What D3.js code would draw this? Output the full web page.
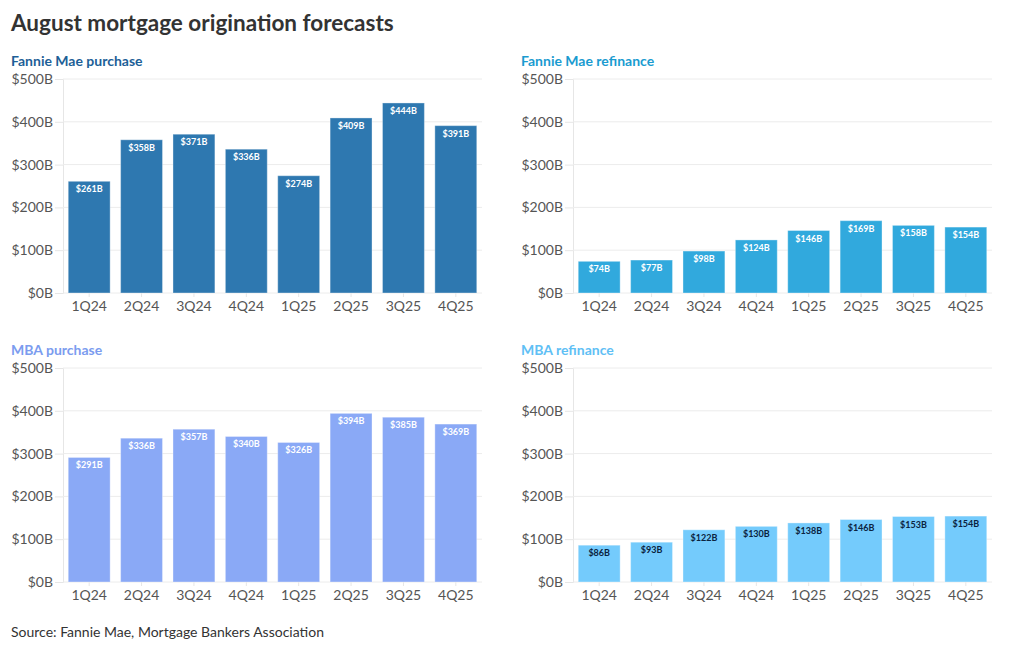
<!DOCTYPE html>
<html>
<head>
<meta charset="utf-8">
<script src="https://cdn.jsdelivr.net/npm/d3@7"></script>
<style>
  body { margin: 0; background: #fff; font-family: Lato, "Open Sans", sans-serif; }
  svg text { font-family: Lato, "Open Sans", sans-serif; }
</style>
</head>
<body>
<div id="chart"></div>
<script>
// Quarterly forecasts, billions of dollars
const quarters = ['1Q24', '2Q24', '3Q24', '4Q24', '1Q25', '2Q25', '3Q25', '4Q25'];
const fannieMaePurchase = [261, 358, 371, 336, 274, 409, 444, 391];
const fannieMaeRefinance = [74, 77, 98, 124, 146, 169, 158, 154];
const mbaPurchase = [291, 336, 357, 340, 326, 394, 385, 369];
const mbaRefinance = [86, 93, 122, 130, 138, 146, 153, 154];
const yTicks = [0, 100, 200, 300, 400, 500];

const panels = [
    { title: 'Fannie Mae purchase', values: fannieMaePurchase, x: 0, y: 0, bar: '#2e78b0', titleColor: '#1d5f97', label: '#ffffff' },
    { title: 'Fannie Mae refinance', values: fannieMaeRefinance, x: 510, y: 0, bar: '#31a9dd', titleColor: '#1a9bd0', label: '#ffffff' },
    { title: 'MBA purchase', values: mbaPurchase, x: 0, y: 289, bar: '#8aa9f6', titleColor: '#7b9cef', label: '#ffffff' },
    { title: 'MBA refinance', values: mbaRefinance, x: 510, y: 289, bar: '#74cbfc', titleColor: '#5fc0f5', label: '#0b2340' }
];

const width = 1020, height = 650;
const svg = d3.select('#chart').append('svg')
    .attr('width', width)
    .attr('height', height);

svg.append('text')
    .attr('x', 11).attr('y', 31)
    .attr('font-size', 22.5).attr('font-weight', 700)
    .attr('fill', '#333')
    .text('August mortgage origination forecasts');

function drawPanel(p) {
    const g = svg.append('g').attr('transform', `translate(${p.x},${p.y})`);
    const left = 63, right = 482, top = 79, bottom = 293;

    g.append('text')
        .attr('x', 11).attr('y', 66)
        .attr('font-size', 14).attr('font-weight', 700)
        .attr('fill', p.titleColor)
        .text(p.title);

    const x = d3.scaleBand()
        .domain(quarters)
        .range([left, right])
        .paddingInner(0.2)
        .paddingOuter(0.1);

    const y = d3.scaleLinear()
        .domain([0, 500])
        .range([bottom, top]);

    // grid + y axis
    const yAxis = g.append('g')
        .attr('transform', `translate(${left},0)`)
        .call(d3.axisLeft(y).tickValues(yTicks).tickSize(8).tickPadding(2).tickFormat(d => `$${d}B`));
    yAxis.select('.domain').attr('stroke', '#e6e6e6');
    yAxis.selectAll('.tick line').attr('stroke', '#e6e6e6');
    yAxis.selectAll('.tick text').attr('font-size', 14).attr('fill', '#555');

    g.append('g')
        .selectAll('line')
        .data(yTicks)
        .join('line')
        .attr('x1', left).attr('x2', right)
        .attr('y1', d => y(d)).attr('y2', d => y(d))
        .attr('stroke', '#ececec');

    // x axis
    const xAxis = g.append('g')
        .attr('transform', `translate(0,${bottom})`)
        .call(d3.axisBottom(x).tickSize(4).tickPadding(4));
    xAxis.select('.domain').remove();
    xAxis.selectAll('.tick line').attr('stroke', '#e6e6e6');
    xAxis.selectAll('.tick text').attr('font-size', 14).attr('fill', '#555');

    // bars
    g.append('g')
        .selectAll('rect')
        .data(p.values)
        .join('rect')
        .attr('x', (d, i) => x(quarters[i]))
        .attr('width', x.bandwidth())
        .attr('y', d => y(d))
        .attr('height', d => bottom - y(d))
        .attr('fill', p.bar)
        .attr('stroke', 'rgba(255,255,255,0.35)')
        .attr('stroke-width', 1);

    // value labels
    g.append('g')
        .selectAll('text')
        .data(p.values)
        .join('text')
        .attr('x', (d, i) => x(quarters[i]) + x.bandwidth() / 2)
        .attr('y', d => y(d) + 11)
        .attr('text-anchor', 'middle')
        .attr('font-size', 9).attr('font-weight', 700)
        .attr('fill', p.label)
        .text(d => `$${d}B`);
}

panels.forEach(drawPanel);

svg.append('text')
    .attr('x', 11).attr('y', 637)
    .attr('font-size', 14)
    .attr('fill', '#333')
    .text('Source: Fannie Mae, Mortgage Bankers Association');
</script>
</body>
</html>
